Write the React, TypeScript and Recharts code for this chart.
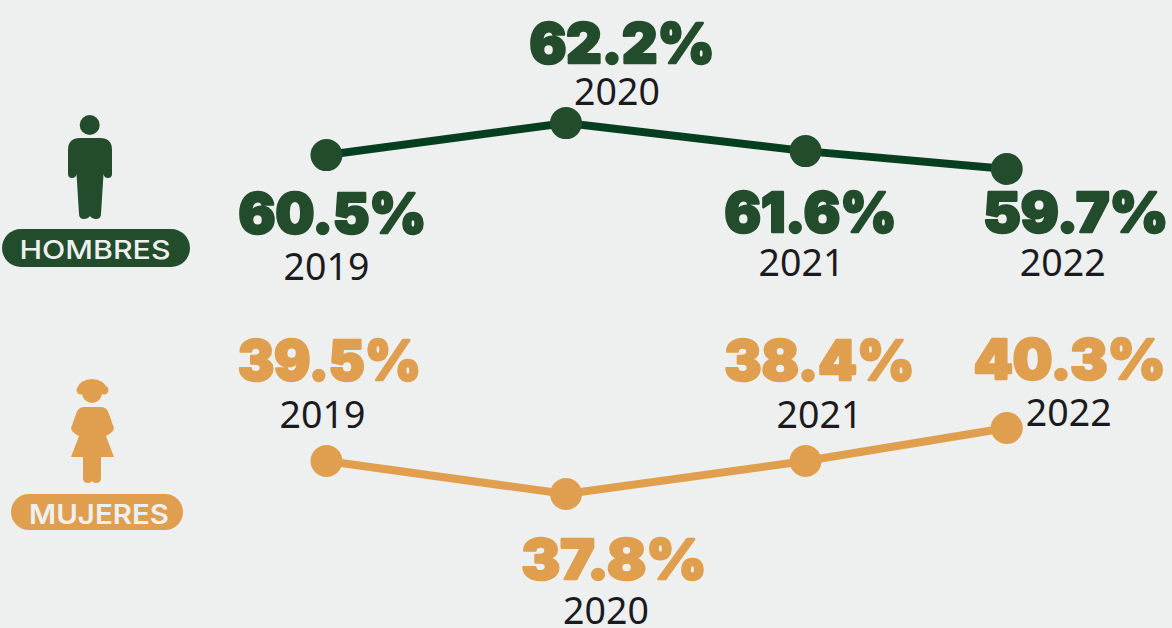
import { LineChart, Line, XAxis, YAxis } from "recharts"

const years = ["2019", "2020", "2021", "2022"]
// the last year sits closer than the others in the source
const slots = [0, 1, 2, 2.84]

const menLabels = ["60.5%", "62.2%", "61.6%", "59.7%"]
const womenLabels = ["39.5%", "37.8%", "38.4%", "40.3%"]
// drawn heights, the source does not plot them to scale with its labels
const menLevels = [60.5, 62.2, 60.71, 59.76]
const womenLevels = [39.5, 37.8, 39.5, 41.2]

const data = years.map((year, i) => ({
  year,
  slot: slots[i],
  men: menLevels[i],
  women: womenLevels[i],
}))

const GREEN = "#224c2b"
const GREEN_LINE = "#063f20"
const ORANGE = "#df9f4f"
const BG = "#eef0ef"

const BIG_FONT = "Inter, sans-serif"
const YEAR_FONT = "'Noto Sans', sans-serif"

// [big dx, big baseline dy, big width, year dx, year baseline dy]
const menPlacement = [
  [6, 78, 188, 0, 125],
  [56, -60, 185, 51, -18],
  [5, 81, 172, -4, 125],
  [69, 63, 185, 56, 107],
]
const womenPlacement = [
  [3, -81, 183, -4, -33],
  [48, 85, 185, 40, 130],
  [14, -81, 190, 14, -33],
  [63, -49, 192, 62, -2],
]

function pointLabel(labels: string[], placement: number[][], color: string) {
  return (props: any) => {
    const { x, y, index } = props
    const [bigDx, bigDy, bigW, yearDx, yearDy] = placement[index]
    return (
      <g key={index}>
        <text
          x={x + bigDx}
          y={y + bigDy}
          textAnchor="middle"
          fontFamily={BIG_FONT}
          fontWeight={900}
          fontSize={55}
          fill={color}
          stroke={color}
          strokeWidth={2.5}
          strokeLinejoin="round"
          textLength={bigW}
          lengthAdjust="spacingAndGlyphs"
        >
          {labels[index]}
        </text>
        <text
          x={x + yearDx}
          y={y + yearDy}
          textAnchor="middle"
          fontFamily={YEAR_FONT}
          fontSize={37.5}
          fill="#1b1b1f"
        >
          {years[index]}
        </text>
      </g>
    )
  }
}

function Icons() {
  return (
    <svg width={1172} height={628} style={{ position: "absolute", left: 0, top: 0 }}>
      <circle cx={89.7} cy={125} r={10} fill={GREEN} />
      <path
        fill={GREEN}
        d="M80 138 H100 Q112 138 112 150 V174 Q112 178 108 178 Q104 178 103.5 174 L101 214 Q101 219 96 219 Q92 219 90 216 Q88 219 84 219 Q79 219 79 214 L76.5 174 Q76 178 72 178 Q68 178 68 174 V150 Q68 138 80 138Z"
      />
      <rect x={2} y={229} width={188} height={38} rx={19} fill={GREEN} />
      <text
        x={95}
        y={259}
        textAnchor="middle"
        fontFamily={BIG_FONT}
        fontWeight={500}
        fontSize={26}
        fill={BG}
        textLength={151}
        lengthAdjust="spacingAndGlyphs"
      >
        HOMBRES
      </text>

      <ellipse cx={92} cy={388} rx={14} ry={9} fill={ORANGE} />
      <circle cx={81} cy={390} r={4.5} fill={ORANGE} />
      <circle cx={104} cy={390} r={4.5} fill={ORANGE} />
      <circle cx={92} cy={393} r={10} fill={ORANGE} />
      <path
        fill={ORANGE}
        d="M84 407 H101 Q107 407 109 414 L114 428 Q114 432 106 436 L114 457 H101 V478 Q101 483 96 483 Q93 483 92 481 Q91 483 88 483 Q83 483 83 478 V457 H71 L79 436 Q71 432 71 428 L76 414 Q78 407 84 407Z"
      />
      <rect x={11} y={494} width={172} height={36} rx={18} fill={ORANGE} />
      <text
        x={99}
        y={524}
        textAnchor="middle"
        fontFamily={BIG_FONT}
        fontWeight={600}
        fontSize={27}
        fill={BG}
        textLength={140}
        lengthAdjust="spacingAndGlyphs"
      >
        MUJERES
      </text>
    </svg>
  )
}

export default function App() {
  return (
    <div style={{ position: "absolute", left: 0, top: 0, width: 1172, height: 628, background: BG, overflow: "hidden" }}>
      <Icons />
      <div style={{ position: "absolute", left: 0, top: 0 }}>
        <LineChart width={1172} height={628} data={data} margin={{ top: 0, right: 0, bottom: 0, left: 0 }}>
          <XAxis dataKey="slot" type="number" domain={[-1.363, 3.53]} hide />
          <YAxis yAxisId="men" domain={[35.37, 68.74]} hide />
          <YAxis yAxisId="women" domain={[30.9, 63.25]} hide />

          {/* dots go in a series of their own so the line stays on top of them */}
          <Line
            yAxisId="men"
            dataKey="men"
            stroke="none"
            dot={{ r: 16, fill: GREEN, stroke: "none", fillOpacity: 1 }}
            activeDot={false}
            label={pointLabel(menLabels, menPlacement, GREEN)}
            isAnimationActive={false}
          />
          <Line
            yAxisId="men"
            dataKey="men"
            stroke={GREEN_LINE}
            strokeWidth={8}
            strokeLinecap="round"
            dot={false}
            activeDot={false}
            isAnimationActive={false}
          />
          <Line
            yAxisId="women"
            dataKey="women"
            stroke={ORANGE}
            strokeWidth={8}
            dot={{ r: 16, fill: ORANGE, stroke: "none", fillOpacity: 1 }}
            activeDot={false}
            label={pointLabel(womenLabels, womenPlacement, ORANGE)}
            isAnimationActive={false}
          />
        </LineChart>
      </div>
    </div>
  )
}
